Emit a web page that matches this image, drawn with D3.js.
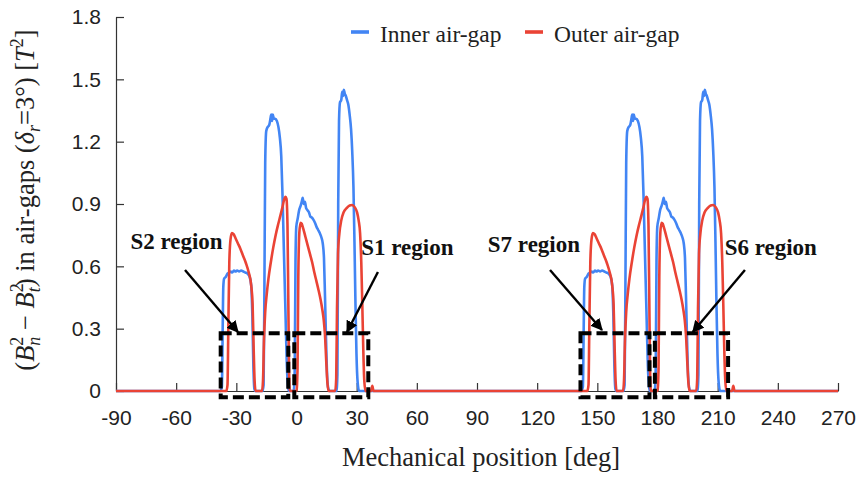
<!DOCTYPE html>
<html>
<head>
<meta charset="utf-8">
<script src="https://cdn.jsdelivr.net/npm/d3@7"></script>
<style>
  body { margin: 0; background: #fff; }
  svg { display: block; }
  .tick text { font-family: Arial, "Liberation Sans", sans-serif; font-size: 21px; fill: #222; }
  .serif { font-family: "Times New Roman", "Liberation Serif", serif; fill: #222; }
</style>
</head>
<body>
<div id="chart"></div>
<script>
// tick values
var xTicks = [-90, -60, -30, 0, 30, 60, 90, 120, 150, 180, 210, 240, 270];
var yTicks = [0, 0.3, 0.6, 0.9, 1.2, 1.5, 1.8];
var yTickLabels = ["0", "0.3", "0.6", "0.9", "1.2", "1.5", "1.8"];

var seriesNames = ["Inner air-gap", "Outer air-gap"];

// inner air-gap, pulses around 0 deg  [deg, value]
var innerA = [
  [-38,0],[-37.2,0.02],[-36.8,0.3],[-36.5,0.5],[-36.1,0.54],[-35.2,0.55],[-34.4,0.565],[-33.6,0.57],[-32.8,0.575],[-32.0,0.57],[-31.2,0.58],[-30.4,0.575],[-29.6,0.58],[-28.6,0.575],[-27.6,0.58],[-26.5,0.575],[-25.4,0.57],[-24.4,0.565],[-23.4,0.55],[-22.6,0.51],[-22.0,0.36],[-21.5,0.12],[-21.0,0.01],[-20.5,0],
  [-17,0],[-16.4,0.03],[-16.0,0.5],[-15.6,1.1],[-15.1,1.25],[-14.4,1.27],[-13.6,1.28],[-13.0,1.31],[-12.6,1.33],[-12.2,1.30],[-11.8,1.33],[-11.3,1.31],[-10.6,1.31],[-9.8,1.30],[-9.0,1.27],[-8.3,1.22],[-7.6,1.13],[-7.0,0.95],[-6.3,0.68],[-5.5,0.38],[-4.8,0.12],[-4.2,0.02],[-3.8,0],
  [-1.4,0],[-0.9,0.1],[-0.5,0.62],[-0.1,0.79],[0.6,0.83],[1.3,0.87],[2.0,0.89],[2.6,0.91],[3.1,0.93],[3.6,0.90],[4.2,0.91],[4.8,0.88],[5.5,0.87],[6.2,0.86],[6.9,0.84],[7.6,0.835],[8.4,0.825],[9.2,0.81],[10.0,0.79],[10.8,0.775],[11.6,0.76],[12.4,0.74],[13.1,0.71],[13.7,0.64],[14.2,0.46],[14.7,0.26],[15.3,0.07],[15.9,0.01],[16.4,0],
  [19.9,0],[20.4,0.08],[20.8,0.9],[21.2,1.3],[21.7,1.39],[22.3,1.40],[22.8,1.44],[23.2,1.42],[23.6,1.45],[24.1,1.43],[24.6,1.42],[25.2,1.40],[25.8,1.38],[26.5,1.33],[27.2,1.26],[27.8,1.15],[28.4,0.98],[28.9,0.72],[29.4,0.42],[29.9,0.18],[30.5,0.04],[31.2,0]
];

// inner air-gap, pulses around 180 deg
var innerB = [
  [142,0],[142.8,0.02],[143.2,0.3],[143.5,0.5],[143.9,0.54],[144.8,0.55],[145.6,0.565],[146.4,0.57],[147.2,0.575],[148.0,0.57],[148.8,0.58],[149.6,0.575],[150.4,0.58],[151.4,0.575],[152.4,0.58],[153.5,0.575],[154.6,0.57],[155.6,0.565],[156.6,0.55],[157.4,0.51],[158.0,0.36],[158.5,0.12],[159.0,0.01],[159.5,0],
  [163,0],[163.6,0.03],[164.0,0.5],[164.4,1.1],[164.9,1.25],[165.6,1.27],[166.4,1.28],[167.0,1.31],[167.4,1.33],[167.8,1.30],[168.2,1.33],[168.7,1.31],[169.4,1.31],[170.2,1.30],[171.0,1.27],[171.7,1.22],[172.4,1.13],[173.0,0.95],[173.7,0.68],[174.5,0.38],[175.2,0.12],[175.8,0.02],[176.2,0],
  [178.6,0],[179.1,0.1],[179.5,0.62],[179.9,0.79],[180.6,0.83],[181.3,0.87],[182.0,0.89],[182.6,0.91],[183.1,0.93],[183.6,0.90],[184.2,0.91],[184.8,0.88],[185.5,0.87],[186.2,0.86],[186.9,0.84],[187.6,0.835],[188.4,0.825],[189.2,0.81],[190.0,0.79],[190.8,0.775],[191.6,0.76],[192.4,0.74],[193.1,0.71],[193.7,0.64],[194.2,0.46],[194.7,0.26],[195.3,0.07],[195.9,0.01],[196.4,0],
  [199.9,0],[200.4,0.08],[200.8,0.9],[201.2,1.3],[201.7,1.39],[202.3,1.40],[202.8,1.44],[203.2,1.42],[203.6,1.45],[204.1,1.43],[204.6,1.42],[205.2,1.40],[205.8,1.38],[206.5,1.33],[207.2,1.26],[207.8,1.15],[208.4,0.98],[208.9,0.72],[209.4,0.42],[209.9,0.18],[210.5,0.04],[211.2,0]
];

// outer air-gap, pulses around 0 deg
var outerA = [
  [-35,0],[-34.4,0.03],[-34.0,0.3],[-33.5,0.62],[-32.9,0.73],[-32.2,0.76],[-31.4,0.755],[-30.4,0.735],[-29.2,0.71],[-28.0,0.685],[-26.6,0.65],[-25.2,0.615],[-23.8,0.57],[-22.6,0.51],[-21.9,0.42],[-21.4,0.22],[-20.9,0.05],[-20.4,0],
  [-17.2,0],[-16.7,0.05],[-16.2,0.25],[-15.6,0.38],[-14.8,0.47],[-14.0,0.54],[-12.8,0.62],[-11.6,0.69],[-10.4,0.75],[-9.2,0.80],[-8.0,0.845],[-7.0,0.885],[-6.2,0.92],[-5.5,0.935],[-5.0,0.925],[-4.5,0.8],[-4.1,0.45],[-3.7,0.1],[-3.3,0],
  [0.0,0],[0.5,0.1],[0.9,0.55],[1.4,0.76],[2.0,0.81],[2.6,0.805],[3.4,0.78],[4.5,0.74],[5.6,0.70],[6.7,0.66],[7.8,0.62],[8.9,0.57],[9.9,0.53],[11.0,0.485],[12.0,0.44],[12.9,0.39],[13.6,0.34],[14.2,0.27],[14.8,0.15],[15.4,0.04],[16.0,0],
  [19.3,0],[19.8,0.06],[20.2,0.4],[20.7,0.66],[21.4,0.76],[22.3,0.82],[23.5,0.86],[25.0,0.88],[26.5,0.893],[27.7,0.895],[29.0,0.885],[30.2,0.86],[31.0,0.82],[31.7,0.76],[32.3,0.62],[32.8,0.42],[33.3,0.2],[33.8,0.05],[34.4,0],
  [37.2,0],[37.8,0.025],[38.4,0]
];

// outer air-gap, pulses around 180 deg
var outerB = [
  [145,0],[145.6,0.03],[146.0,0.3],[146.5,0.62],[147.1,0.73],[147.8,0.76],[148.6,0.755],[149.6,0.735],[150.8,0.71],[152.0,0.685],[153.4,0.65],[154.8,0.615],[156.2,0.57],[157.4,0.51],[158.1,0.42],[158.6,0.22],[159.1,0.05],[159.6,0],
  [162.8,0],[163.3,0.05],[163.8,0.25],[164.4,0.38],[165.2,0.47],[166.0,0.54],[167.2,0.62],[168.4,0.69],[169.6,0.75],[170.8,0.80],[172.0,0.845],[173.0,0.885],[173.8,0.92],[174.5,0.935],[175.0,0.925],[175.5,0.8],[175.9,0.45],[176.3,0.1],[176.7,0],
  [180.0,0],[180.5,0.1],[180.9,0.55],[181.4,0.76],[182.0,0.81],[182.6,0.805],[183.4,0.78],[184.5,0.74],[185.6,0.70],[186.7,0.66],[187.8,0.62],[188.9,0.57],[189.9,0.53],[191.0,0.485],[192.0,0.44],[192.9,0.39],[193.6,0.34],[194.2,0.27],[194.8,0.15],[195.4,0.04],[196.0,0],
  [199.3,0],[199.8,0.06],[200.2,0.4],[200.7,0.66],[201.4,0.76],[202.3,0.82],[203.5,0.86],[205.0,0.88],[206.5,0.893],[207.7,0.895],[209.0,0.885],[210.2,0.86],[211.0,0.82],[211.7,0.76],[212.3,0.62],[212.8,0.42],[213.3,0.2],[213.8,0.05],[214.4,0],
  [217.2,0],[217.8,0.025],[218.4,0]
];

// dashed regions [deg from, deg to, value from, value to]
var regionBoxes = [
  [-37.8, -4.1, -0.03, 0.278],
  [-1.1, 35.8, -0.03, 0.278],
  [141.6, 176.0, -0.03, 0.278],
  [178.7, 215.2, -0.03, 0.278]
];

// region labels and arrows (label pos, arrow start, arrow tip) in deg / value
var regionNotes = [
  { label: "S2 region", at: [-59.8, 0.683], from: [-55.6, 0.582], to: [-29.2, 0.284] },
  { label: "S1 region", at: [55.3, 0.654], from: [40.6, 0.573], to: [25.2, 0.284] },
  { label: "S7 region", at: [118.4, 0.669], from: [126.4, 0.582], to: [152.3, 0.294] },
  { label: "S6 region", at: [236.5, 0.654], from: [223.6, 0.582], to: [197.6, 0.284] }
];

var svgWidth = 859;
var svgHeight = 477;
var margin = { top: 17, right: 21, bottom: 86, left: 116 };
var width = svgWidth - margin.left - margin.right;
var height = svgHeight - margin.top - margin.bottom;

var colors = { inner: "#4285f4", outer: "#ea4335" };

var svg = d3.select("#chart")
    .append("svg")
    .attr("width", svgWidth)
    .attr("height", svgHeight);

var g = svg.append("g")
    .attr("transform", `translate(${margin.left}, ${margin.top})`);

var x = d3.scaleLinear().domain([-90, 270]).range([0, width]);
var y = d3.scaleLinear().domain([0, 1.8]).range([height, 0]);

// axes, ticks pointing inward
var xAxis = d3.axisBottom(x)
    .tickValues(xTicks)
    .tickFormat(d => String(d))
    .tickSizeInner(-8)
    .tickSizeOuter(0)
    .tickPadding(19);

var yAxis = d3.axisLeft(y)
    .tickValues(yTicks)
    .tickFormat((d, i) => yTickLabels[i])
    .tickSizeInner(-8)
    .tickSizeOuter(0)
    .tickPadding(15);

var gx = g.append("g")
    .attr("transform", `translate(0, ${height})`)
    .call(xAxis);
var gy = g.append("g").call(yAxis);

[gx, gy].forEach(function (a) {
    a.select(".domain").attr("stroke", "#333").attr("stroke-width", 1.2);
    a.selectAll(".tick line").attr("stroke", "#333").attr("stroke-width", 1.2);
});

// curves
var line = d3.line()
    .x(d => x(d[0]))
    .y(d => y(d[1]))
    .curve(d3.curveMonotoneX);

var innerSeries = [[-90, 0]].concat(innerA, innerB, [[270, 0]]);
var outerSeries = [[-90, 0]].concat(outerA, outerB, [[270, 0]]);

g.append("path")
    .datum(innerSeries)
    .attr("fill", "none")
    .attr("stroke", colors.inner)
    .attr("stroke-width", 2.6)
    .attr("stroke-linejoin", "round")
    .attr("d", line);

g.append("path")
    .datum(outerSeries)
    .attr("fill", "none")
    .attr("stroke", colors.outer)
    .attr("stroke-width", 2.6)
    .attr("stroke-linejoin", "round")
    .attr("d", line);

// dashed boxes
g.selectAll(".region")
    .data(regionBoxes)
    .enter()
    .append("rect")
    .attr("class", "region")
    .attr("x", d => x(d[0]))
    .attr("y", d => y(d[3]))
    .attr("width", d => x(d[1]) - x(d[0]))
    .attr("height", d => y(d[2]) - y(d[3]))
    .attr("fill", "none")
    .attr("stroke", "#000")
    .attr("stroke-width", 4)
    .attr("stroke-dasharray", "11,5");

// arrows
svg.append("defs").append("marker")
    .attr("id", "head")
    .attr("viewBox", "0 0 10 10")
    .attr("refX", 9)
    .attr("refY", 5)
    .attr("markerWidth", 5)
    .attr("markerHeight", 5)
    .attr("markerUnits", "strokeWidth")
    .attr("orient", "auto")
    .append("path")
    .attr("d", "M0,0 L10,5 L0,10 z")
    .attr("fill", "#000");

g.selectAll(".arrow")
    .data(regionNotes)
    .enter()
    .append("line")
    .attr("class", "arrow")
    .attr("x1", d => x(d.from[0]))
    .attr("y1", d => y(d.from[1]))
    .attr("x2", d => x(d.to[0]))
    .attr("y2", d => y(d.to[1]))
    .attr("stroke", "#000")
    .attr("stroke-width", 2.4)
    .attr("marker-end", "url(#head)");

g.selectAll(".note")
    .data(regionNotes)
    .enter()
    .append("text")
    .attr("class", "serif")
    .attr("x", d => x(d.at[0]))
    .attr("y", d => y(d.at[1]))
    .attr("text-anchor", "middle")
    .style("font-size", "23px")
    .style("font-weight", "bold")
    .style("fill", "#111")
    .text(d => d.label);

// legend
var legend = svg.append("g").attr("transform", "translate(351, 32)");
[{ name: seriesNames[0], color: colors.inner, dx: 0 },
 { name: seriesNames[1], color: colors.outer, dx: 174 }].forEach(function (s) {
    legend.append("line")
        .attr("x1", s.dx).attr("x2", s.dx + 18)
        .attr("y1", 0).attr("y2", 0)
        .attr("stroke", s.color)
        .attr("stroke-width", 3.6);
    legend.append("text")
        .attr("class", "serif")
        .attr("x", s.dx + 29)
        .attr("y", 9.5)
        .style("font-size", "23.5px")
        .text(s.name);
});

// x axis title
svg.append("text")
    .attr("class", "serif")
    .attr("x", 481)
    .attr("y", 466)
    .attr("text-anchor", "middle")
    .style("font-size", "26.5px")
    .text("Mechanical position [deg]");

// y axis title with sub/superscripts
var yTitle = svg.append("text")
    .attr("class", "serif")
    .attr("transform", "translate(34, 200) rotate(-90)")
    .attr("text-anchor", "middle")
    .style("font-size", "26.5px");

var S = 18;
var parts = [
    { t: "(", dy: 0 },
    { t: "B", it: true },
    { t: "2", small: true, dy: -11 },
    { t: "n", small: true, it: true, dx: -9, dy: 17 },
    { t: " \u2212 ", dy: -6 },
    { t: "B", it: true },
    { t: "2", small: true, dy: -11 },
    { t: "t", small: true, it: true, dx: -9, dy: 17 },
    { t: ") in air-gaps (", dy: -6 },
    { t: "\u03b4", it: true },
    { t: "r", small: true, it: true, dy: 6 },
    { t: "=3\u00b0) [", dy: -6 },
    { t: "T", it: true },
    { t: "2", small: true, dy: -11 },
    { t: "]", dy: 11 }
];
parts.forEach(function (p) {
    var ts = yTitle.append("tspan").text(p.t);
    if (p.it) ts.style("font-style", "italic");
    if (p.small) ts.style("font-size", S + "px");
    if (p.dy) ts.attr("dy", p.dy);
    if (p.dx) ts.attr("dx", p.dx);
});
</script>
</body>
</html>
